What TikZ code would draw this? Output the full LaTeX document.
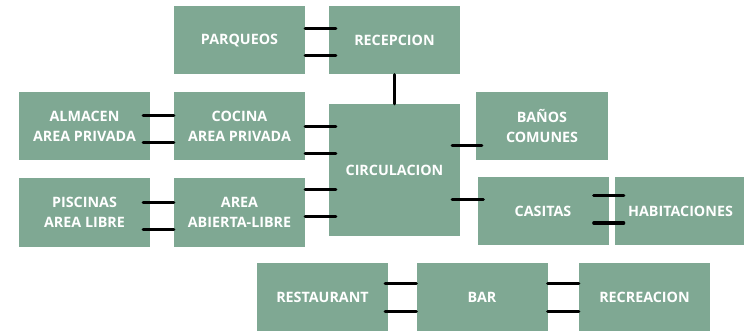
\documentclass[tikz,border=0pt]{standalone}
\usepackage{fontspec}
\setmainfont{Open Sans}
\usepackage{xcolor}
\usetikzlibrary{positioning}
\definecolor{zonegreen}{RGB}{127,168,147}

\begin{document}
\begin{tikzpicture}[
    x=1pt, y=-1pt,
    zone/.style={rectangle, fill=zonegreen, draw=none, text=white,
                 minimum width=131pt, minimum height=68pt, align=center,
                 inner sep=0pt, font=\bfseries\fontsize{14.3}{20}\selectfont},
    link/.style={line width=3pt, black, line cap=round}
]
\useasboundingbox (0,0) rectangle (744,331);
% zonas
\node[zone] (parqueos) at (239.5,40.5) {PARQUEOS};
\node[zone] (recepcion) at (394.5,40.5) {RECEPCION};
\node[zone] (almacen) at (84.5,126) {ALMACEN\\AREA PRIVADA};
\node[zone] (cocina) at (239.5,126) {COCINA\\AREA PRIVADA};
\node[zone, minimum height=132pt] (circulacion) at (394.5,170) {CIRCULACION};
\node[zone, minimum width=132pt] (banos) at (542,126) {BAÑOS\\COMUNES};
\node[zone] (piscinas) at (84.5,212.5) {PISCINAS\\AREA LIBRE};
\node[zone] (abierta) at (239.5,212.5) {AREA\\ABIERTA-LIBRE};
\node[zone] (casitas) at (543,211) {CASITAS};
\node[zone] (habitaciones) at (680.5,211) {HABITACIONES};
\node[zone] (restaurant) at (322.5,297) {RESTAURANT};
\node[zone] (bar) at (482,297) {BAR};
\node[zone] (recreacion) at (644.5,297) {RECREACION};
% conexiones
\draw[link] ([yshift=11.5pt]parqueos.east) -- ([xshift=7pt,yshift=11.5pt]recepcion.west);
\draw[link] ([yshift=-15.5pt]parqueos.east) -- ([xshift=7pt,yshift=-15.5pt]recepcion.west);
\draw[link] (recepcion.south) -- (circulacion.north);
\draw[link] ([xshift=-7pt,yshift=10pt]almacen.east) -- ([yshift=10pt]cocina.west);
\draw[link] ([xshift=-7pt,yshift=-17pt]almacen.east) -- ([yshift=-17pt]cocina.west);
\draw[link] ([yshift=43pt]cocina.east |- circulacion.center) -- ([xshift=7pt,yshift=43pt]circulacion.west);
\draw[link] ([yshift=16pt]cocina.east |- circulacion.center) -- ([xshift=7pt,yshift=16pt]circulacion.west);
\draw[link] ([xshift=-8pt,yshift=24pt]circulacion.east) -- ([xshift=6pt,yshift=24pt]circulacion.east -| banos.west);
\draw[link] ([xshift=-7pt,yshift=9.5pt]piscinas.east) -- ([yshift=9.5pt]abierta.west);
\draw[link] ([xshift=-7pt,yshift=-16.5pt]piscinas.east) -- ([yshift=-16.5pt]abierta.west);
\draw[link] ([yshift=-20pt]abierta.east |- circulacion.center) -- ([xshift=7pt,yshift=-20pt]circulacion.west);
\draw[link] ([yshift=-47pt]abierta.east |- circulacion.center) -- ([xshift=7pt,yshift=-47pt]circulacion.west);
\draw[link] ([xshift=-8pt,yshift=-30pt]circulacion.east) -- ([xshift=6pt,yshift=-30pt]circulacion.east -| casitas.west);
\draw[link] ([xshift=-15pt,yshift=15pt]casitas.east) -- ([xshift=9pt,yshift=15pt]habitaciones.west);
\draw[link] ([xshift=-15pt,yshift=-12pt]casitas.east) -- ([xshift=9pt,yshift=-12pt]habitaciones.west);
\draw[link] ([xshift=-3pt,yshift=14pt]restaurant.east) -- ([yshift=14pt]bar.west);
\draw[link] ([xshift=-3pt,yshift=-14pt]restaurant.east) -- ([yshift=-14pt]bar.west);
\draw[link] ([yshift=14pt]bar.east) -- ([yshift=14pt]recreacion.west);
\draw[link] ([yshift=-14pt]bar.east) -- ([yshift=-14pt]recreacion.west);
\end{tikzpicture}
\end{document}
